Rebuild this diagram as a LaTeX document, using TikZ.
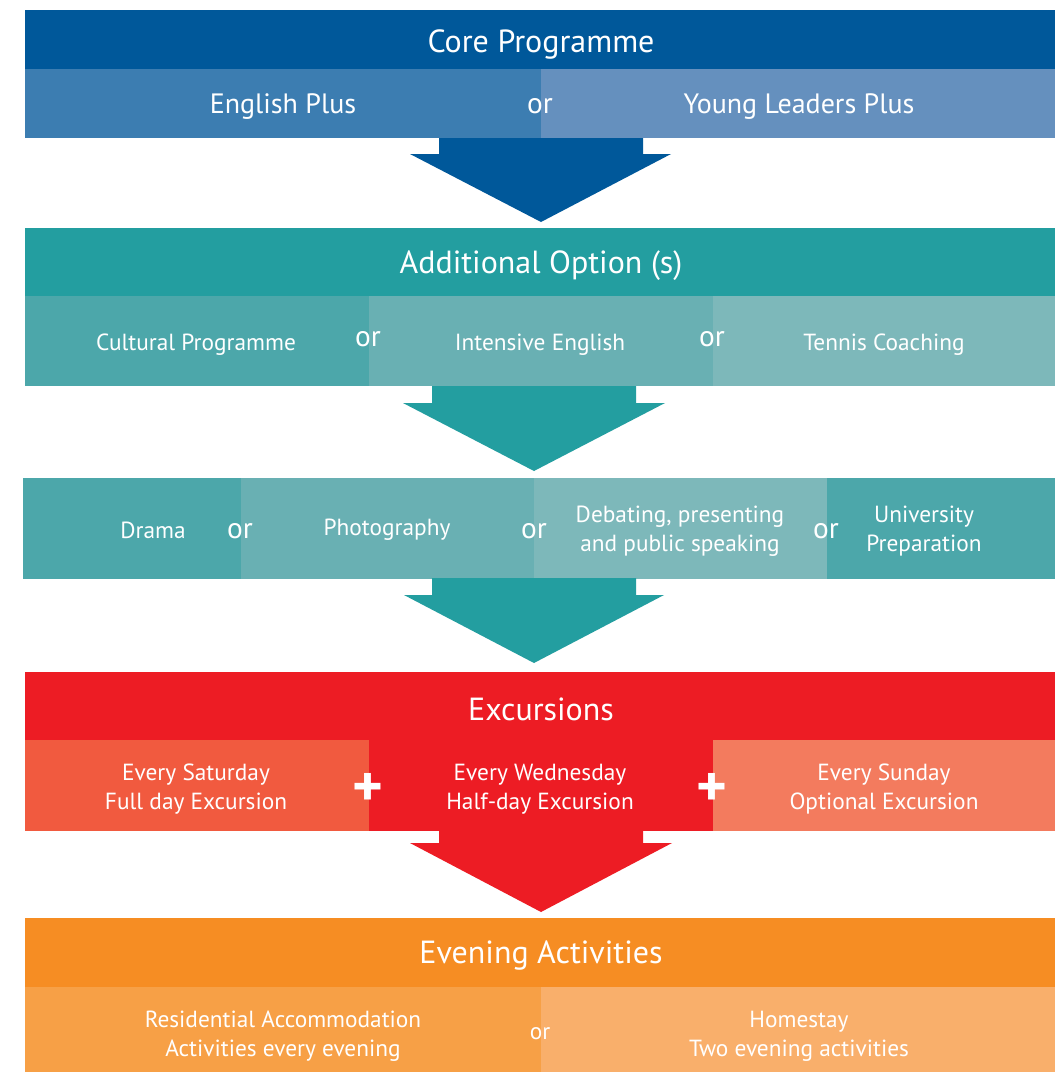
\documentclass[tikz,border=0pt]{standalone}
\usepackage{fontspec}
\setmainfont{PT Sans}
\usetikzlibrary{positioning}
\definecolor{coreblue}{HTML}{00589A}
\definecolor{engblue}{HTML}{3C7DB1}
\definecolor{youngblue}{HTML}{6590BE}
\definecolor{optteal}{HTML}{239EA0}
\definecolor{tealA}{HTML}{4CA7AA}
\definecolor{tealB}{HTML}{69B0B3}
\definecolor{tealC}{HTML}{7DB8BA}
\definecolor{excred}{HTML}{ED1C24}
\definecolor{satred}{HTML}{F15A3F}
\definecolor{sunred}{HTML}{F37B5E}
\definecolor{eveorange}{HTML}{F68D23}
\definecolor{resorange}{HTML}{F7A046}
\definecolor{homeorange}{HTML}{F9AF6B}

\begin{document}
\begin{tikzpicture}[x=0.75pt,y=-0.75pt,
    title/.style={text=white, font=\fontsize{24}{28}\selectfont, inner sep=0pt},
    item/.style={text=white, font=\fontsize{21}{25}\selectfont, inner sep=0pt, align=center},
    small/.style={text=white, font=\fontsize{17.5}{21.75}\selectfont, inner sep=0pt, align=center},
    conj/.style={text=white, font=\fontsize{22}{26}\selectfont, inner sep=0pt},
    plus/.style={text=white, font=\bfseries\fontsize{44}{44}\selectfont, inner sep=0pt}]

        \useasboundingbox[fill=white] (0,0) rectangle (1055,1072);

        % core programme
        \fill[coreblue] (25,10) rectangle (1055,69);
        \fill[engblue] (25,69) rectangle (541,138);
        \fill[youngblue] (541,69) rectangle (1055,138);
        \node[title] (core) at (541,44) {Core Programme};
        \node[item] (eng) at (283,107) {English Plus};
        \node[conj] (or1) at (540,106) {or};
        \node[item] (young) at (799,107) {Young Leaders Plus};

        \fill[coreblue] (439,138) -- (643,138) -- (643,154) -- (671,154) -- (541,222) -- (410,154) -- (439,154) -- cycle;

        % additional options
        \fill[optteal] (25,228) rectangle (1055,296);
        \fill[tealA] (25,296) rectangle (369,386);
        \fill[tealB] (369,296) rectangle (713,386);
        \fill[tealC] (713,296) rectangle (1055,386);
        \node[title] (add) at (541,266) {Additional Option (s)};
        \node[small] (cult) at (196,345) {Cultural Programme};
        \node[conj] (or2) at (368,339) {or};
        \node[small] (intens) at (540,345) {Intensive English};
        \node[conj] (or3) at (712,339) {or};
        \node[small] (tennis) at (884,345) {Tennis Coaching};

        \fill[optteal] (432,386) -- (636,386) -- (636,403) -- (665,403) -- (534,471) -- (403,403) -- (432,403) -- cycle;

        \fill[tealA] (23,478) rectangle (241,579);
        \fill[tealB] (241,478) rectangle (534,579);
        \fill[tealC] (534,478) rectangle (827,579);
        \fill[tealA] (827,478) rectangle (1055,579);
        \node[small] (drama) at (153,530) {Drama};
        \node[conj] (or4) at (240,531) {or};
        \node[small] (photo) at (387,530) {Photography};
        \node[conj] (or5) at (534,531) {or};
        \node[small] (debate) at (680,531) {Debating, presenting\\and public speaking};
        \node[conj] (or6) at (826,531) {or};
        \node[small] (univ) at (924,531) {University\\Preparation};

        \fill[optteal] (432,578) -- (636,578) -- (636,595) -- (664,595) -- (534,663) -- (404,595) -- (432,595) -- cycle;

        % excursions
        \fill[excred] (25,672) rectangle (1055,740);
        \fill[satred] (25,740) rectangle (369,831);
        \fill[excred] (369,740) rectangle (713,831);
        \fill[sunred] (713,740) rectangle (1055,831);
        \node[title] (exc) at (541,709) {Excursions};
        \node[small] (sat) at (196,789) {Every Saturday\\Full day Excursion};
        \node[plus] (plus1) at (368,790) {+};
        \node[small] (wed) at (540,789) {Every Wednesday\\Half-day Excursion};
        \node[plus] (plus2) at (712,790) {+};
        \node[small] (sun) at (884,789) {Every Sunday\\Optional Excursion};

        \fill[excred] (439,831) -- (643,831) -- (643,843) -- (672,843) -- (541,912) -- (410,843) -- (439,843) -- cycle;

        % evening activities
        \fill[eveorange] (25,918) rectangle (1055,987);
        \fill[resorange] (25,987) rectangle (541,1072);
        \fill[homeorange] (541,987) rectangle (1055,1072);
        \node[title] (eve) at (541,956) {Evening Activities};
        \node[small] (resid) at (283,1036) {Residential Accommodation\\Activities every evening};
        \node[small] (or7) at (540,1034) {or};
        \node[small] (home) at (799,1036) {Homestay\\Two evening activities};

\end{tikzpicture}
\end{document}
